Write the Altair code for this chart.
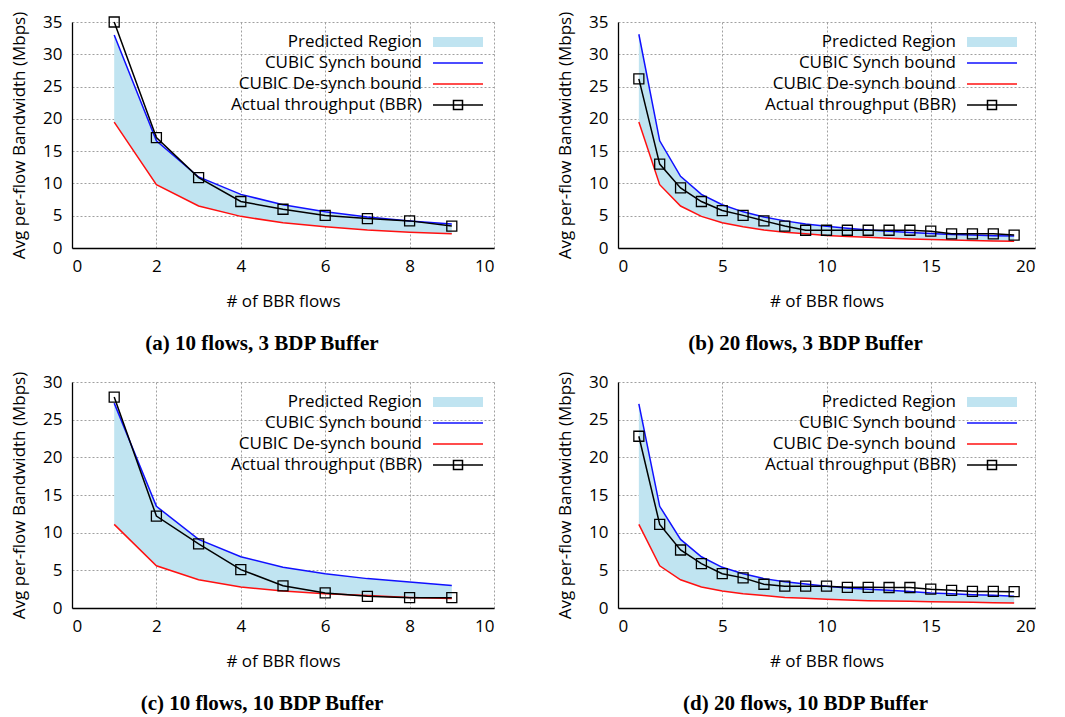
import altair as alt
import pandas as pd

# ---------------- data ----------------
x10 = [1, 2, 3, 4, 5, 6, 7, 8, 9]
x20 = list(range(1, 20))

# (a) 10 flows, 3 BDP buffer
a_synch = [33.0, 16.6, 11.0, 8.3, 6.7, 5.6, 4.8, 4.2, 3.7]
a_desynch = [19.5, 9.8, 6.5, 4.9, 3.9, 3.3, 2.8, 2.45, 2.2]
a_actual = [35.0, 17.1, 10.9, 7.2, 6.0, 5.05, 4.55, 4.2, 3.4]

# (b) 20 flows, 3 BDP buffer
b_synch = [33.1, 16.6, 11.1, 8.3, 6.7, 5.6, 4.8, 4.2, 3.7, 3.35, 3.05, 2.8, 2.6, 2.4,
           2.25, 2.1, 2.0, 1.9, 1.85]
b_desynch = [19.5, 9.8, 6.5, 4.9, 3.9, 3.3, 2.8, 2.45, 2.2, 1.95, 1.8, 1.65, 1.5, 1.4,
             1.3, 1.22, 1.15, 1.1, 1.05]
b_actual = [26.2, 13.0, 9.3, 7.2, 5.8, 5.05, 4.2, 3.4, 2.75, 2.75, 2.75, 2.75, 2.75, 2.75,
            2.6, 2.2, 2.2, 2.2, 2.0]

# (c) 10 flows, 10 BDP buffer
c_synch = [27.2, 13.5, 9.1, 6.8, 5.4, 4.55, 3.9, 3.45, 3.0]
c_desynch = [11.1, 5.6, 3.75, 2.8, 2.25, 1.9, 1.65, 1.4, 1.25]
c_actual = [28.0, 12.2, 8.5, 5.1, 2.95, 2.0, 1.55, 1.37, 1.37]

# (d) 20 flows, 10 BDP buffer
d_synch = [27.1, 13.5, 9.1, 6.8, 5.4, 4.55, 3.9, 3.5, 3.2, 2.9, 2.65, 2.5, 2.35, 2.2,
           2.0, 1.9, 1.77, 1.7, 1.55]
d_desynch = [11.1, 5.6, 3.75, 2.8, 2.25, 1.9, 1.65, 1.4, 1.28, 1.15, 1.06, 0.97, 0.93,
             0.88, 0.84, 0.8, 0.75, 0.7, 0.66]
d_actual = [22.8, 11.1, 7.7, 5.9, 4.55, 4.0, 3.15, 2.9, 2.9, 2.9, 2.75, 2.75, 2.72, 2.72,
            2.5, 2.35, 2.2, 2.2, 2.17]

captions = ["(a) 10 flows, 3 BDP Buffer", "(b) 20 flows, 3 BDP Buffer",
            "(c) 10 flows, 10 BDP Buffer", "(d) 20 flows, 10 BDP Buffer"]

series_names = ["Predicted Region", "CUBIC Synch bound", "CUBIC De-synch bound",
                "Actual throughput (BBR)"]

AREA = "#c0e4f1"
BLUE = "#1010ff"
RED = "#ff1010"
FONT = "Open Sans"

# legend symbols (custom SVG paths; scaled by sqrt(symbolSize)/2 = 5)
legend_paths = [
    "M-5,-1H5V1H-5Z",
    "M-5,0H5",
    "M-5,0H5",
    "M-5,0H5M-0.9,-0.9H0.9V0.9H-0.9Z",
]


def panel(xs, synch, desynch, actual, xmax, xstep, ymax, width, caption, lx):
    df = pd.DataFrame({"x": xs, "synch": synch, "desynch": desynch, "actual": actual})
    xscale = alt.Scale(domain=[0, xmax], nice=False)
    yscale = alt.Scale(domain=[0, ymax], nice=False)
    xaxis = alt.Axis(title="# of BBR flows", values=list(range(0, xmax + 1, xstep)),
                     format="d")
    yaxis = alt.Axis(title="Avg per-flow Bandwidth (Mbps)",
                     values=list(range(0, ymax + 1, 5)), format="d")
    base = alt.Chart(df)

    def X():
        return alt.X("x:Q", scale=xscale, axis=xaxis)

    def Y(f):
        return alt.Y(f + ":Q", scale=yscale, axis=yaxis)

    area = base.mark_area(color=AREA, opacity=1).encode(
        x=X(), y=Y("desynch"), y2="synch:Q")
    synch_line = base.mark_line(color=BLUE, strokeWidth=1.5).encode(
        x=X(), y=Y("synch"))
    desynch_line = base.mark_line(color=RED, strokeWidth=1.5).encode(
        x=X(), y=Y("desynch"))
    actual_line = base.mark_line(color="black", strokeWidth=1.5).encode(
        x=X(), y=Y("actual"))
    actual_pts = base.mark_point(shape="square", size=100, filled=False, color="black",
                                 strokeWidth=1.3, opacity=1).encode(
        x=X(), y=Y("actual"))

    leg_df = pd.DataFrame({"series": series_names})
    legend = alt.Legend(title=None, orient="none", legendX=lx, legendY=11.5,
                        padding=0, symbolSize=100, symbolStrokeWidth=1.5,
                        symbolOffset=0, labelOffset={"expr": "-44.5"}, labelAlign="right",
                        labelFont=FONT, labelFontSize=17, labelColor="black",
                        labelLimit=400, rowPadding=3)
    leg = alt.Chart(leg_df).mark_point(opacity=1, strokeWidth=1.5).encode(
        shape=alt.Shape("series:N", scale=alt.Scale(domain=series_names,
                                                    range=legend_paths),
                        legend=legend),
        stroke=alt.Stroke("series:N", scale=alt.Scale(
            domain=series_names, range=["transparent", BLUE, RED, "black"]),
            legend=legend),
        fill=alt.Fill("series:N", scale=alt.Scale(
            domain=series_names, range=[AREA, "transparent", "transparent", "transparent"]),
            legend=legend),
    ).transform_filter("false")

    return alt.layer(area, synch_line, desynch_line, actual_line, actual_pts, leg).properties(
        width=width, height=226,
        title=alt.TitleParams(caption, orient="bottom", font="Liberation Serif",
                              fontSize=21, fontWeight="bold", color="black",
                              offset=24, dx=-21),
    )


pa = panel(x10, a_synch, a_desynch, a_actual, 10, 2, 35, 422, captions[0], 377.5)
pb = panel(x20, b_synch, b_desynch, b_actual, 20, 5, 35, 417, captions[1], 365.5)
pc = panel(x10, c_synch, c_desynch, c_actual, 10, 2, 30, 422, captions[2], 377.5)
pd_ = panel(x20, d_synch, d_desynch, d_actual, 20, 5, 30, 417, captions[3], 365.5)

top = alt.hconcat(pa, pb, spacing=62).resolve_scale(
    shape="independent", stroke="independent", fill="independent")
bottom = alt.hconcat(pc, pd_, spacing=62).resolve_scale(
    shape="independent", stroke="independent", fill="independent")

chart = alt.vconcat(top, bottom, spacing=17, background="white",
                    padding={"left": 2, "top": 3, "right": 5, "bottom": 0}).resolve_scale(
    shape="independent", stroke="independent", fill="independent"
).configure_view(stroke=None).configure_axis(
    labelFont=FONT, labelFontSize=17, labelColor="black",
    titleFont=FONT, titleFontSize=17, titleFontWeight="normal", titleColor="black",
    domainColor="black", domainWidth=1.3, ticks=False, tickSize=0,
    labelPadding=10,
    gridColor="#a0a0a0", gridDash=[2, 2], gridWidth=1, gridOpacity=1,
).configure_axisX(titlePadding=19).configure_axisY(titlePadding=14)

chart.save("out.html", embed_options={"renderer": "svg", "actions": False})
